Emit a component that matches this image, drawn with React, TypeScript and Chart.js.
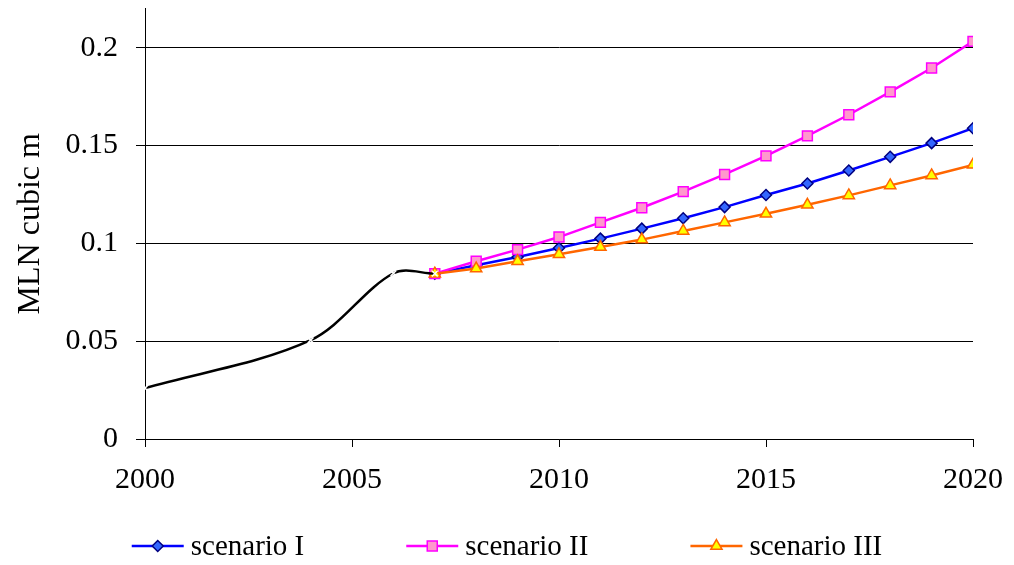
import React, { useEffect, useRef } from 'react';
import { Chart, registerables } from 'chart.js';

Chart.register(...registerables);

const historyYears = [2000, 2004, 2006, 2007];
const historyValues = [0.026, 0.0505, 0.0847, 0.0845];

const scenarioYears = [2007, 2008, 2009, 2010, 2011, 2012, 2013, 2014, 2015, 2016, 2017, 2018, 2019, 2020];
const scenario1 = [0.0845, 0.0888, 0.093, 0.0976, 0.1024, 0.1075, 0.1128, 0.1185, 0.1247, 0.1306, 0.1372, 0.1442, 0.1512, 0.1588];
const scenario2 = [0.0845, 0.0908, 0.0968, 0.1032, 0.1107, 0.1182, 0.1264, 0.1352, 0.1447, 0.1549, 0.1657, 0.1774, 0.1896, 0.2032];
const scenario3 = [0.0845, 0.0871, 0.0908, 0.0944, 0.0981, 0.1019, 0.1063, 0.1107, 0.1151, 0.1197, 0.1245, 0.1296, 0.1347, 0.1401];

const seriesLabels = ['scenario I', 'scenario II', 'scenario III'];
const yAxisTitle = 'MLN cubic m';
const xMin = 2000;
const xMax = 2020;
const xStep = 5;
const yMin = 0;
const yMax = 0.22;
const yStep = 0.05;

const FONT = '"Liberation Serif", "Times New Roman", serif';

const toPoints = (xs: number[], ys: number[]) => xs.map((x, i) => ({ x, y: ys[i] }));

function drawMarker(ctx: CanvasRenderingContext2D, style: string, x: number, y: number) {
  ctx.beginPath();
  if (style === 'rectRot') {
    const r = 5.5;
    ctx.moveTo(x - r, y);
    ctx.lineTo(x, y - r);
    ctx.lineTo(x + r, y);
    ctx.lineTo(x, y + r);
    ctx.closePath();
  } else if (style === 'rect') {
    const h = 5;
    ctx.rect(x - h, y - h, 2 * h, 2 * h);
  } else if (style === 'triangle') {
    const r = 6.5;
    ctx.moveTo(x, y - r);
    ctx.lineTo(x + r * Math.sin(Math.PI / 3), y + r / 2);
    ctx.lineTo(x - r * Math.sin(Math.PI / 3), y + r / 2);
    ctx.closePath();
  }
  ctx.fill();
  ctx.stroke();
}

const lineLegend = {
  id: 'lineLegend',
  afterDraw(chart: any) {
    const ctx: CanvasRenderingContext2D = chart.ctx;
    const items = chart.data.datasets.filter((d: any) => d.inLegend);
    ctx.save();
    ctx.font = `29px ${FONT}`;
    const lineW = 52;
    const gapText = 7;
    const gapItem = 102;
    const widths = items.map((d: any) => lineW + gapText + ctx.measureText(d.label).width);
    const total = widths.reduce((a: number, b: number) => a + b, 0) + gapItem * (items.length - 1);
    let x = chart.width / 2 - total / 2;
    const y = 546;
    items.forEach((d: any, i: number) => {
      ctx.strokeStyle = d.borderColor;
      ctx.lineWidth = 2.5;
      ctx.beginPath();
      ctx.moveTo(x, y);
      ctx.lineTo(x + lineW, y);
      ctx.stroke();
      ctx.fillStyle = d.pointBackgroundColor;
      ctx.strokeStyle = d.pointBorderColor;
      ctx.lineWidth = 1.5;
      drawMarker(ctx, d.pointStyle, x + lineW / 2, y);
      ctx.fillStyle = '#000';
      ctx.textBaseline = 'middle';
      ctx.textAlign = 'left';
      ctx.fillText(d.label, x + lineW + gapText, y + 1);
      x += widths[i] + gapItem;
    });
    ctx.restore();
  },
};

export default function App() {
  const canvasRef = useRef<HTMLCanvasElement | null>(null);

  useEffect(() => {
    if (!canvasRef.current) return;
    const chart = new Chart(canvasRef.current, {
      type: 'line',
      data: {
        datasets: [
          {
            label: seriesLabels[0],
            inLegend: true,
            data: toPoints(scenarioYears, scenario1),
            borderColor: '#0000FF',
            borderWidth: 2.5,
            pointStyle: 'rectRot',
            pointRadius: 5.5,
            pointBackgroundColor: '#3366FF',
            pointBorderColor: '#000080',
            pointBorderWidth: 1.5,
            tension: 0,
            order: 3,
          } as any,
          {
            label: seriesLabels[1],
            inLegend: true,
            data: toPoints(scenarioYears, scenario2),
            borderColor: '#FF00FF',
            borderWidth: 2.5,
            pointStyle: 'rect',
            pointRadius: 7,
            pointBackgroundColor: '#FF99CC',
            pointBorderColor: '#FF00FF',
            pointBorderWidth: 1.5,
            tension: 0,
            order: 2,
          } as any,
          {
            label: seriesLabels[2],
            inLegend: true,
            data: toPoints(scenarioYears, scenario3),
            borderColor: '#FF6600',
            borderWidth: 2.5,
            pointStyle: 'triangle',
            pointRadius: 6.5,
            pointBackgroundColor: '#FFFF00',
            pointBorderColor: '#FF6600',
            pointBorderWidth: 1.5,
            tension: 0,
            order: 1,
          } as any,
          {
            label: 'history',
            inLegend: false,
            data: toPoints(historyYears, historyValues),
            borderColor: '#000000',
            borderWidth: 2.5,
            pointStyle: 'crossRot',
            pointRadius: 4,
            pointBorderColor: '#FFFFFF',
            pointBackgroundColor: '#FFFFFF',
            pointBorderWidth: 1.5,
            tension: 0.33,
            order: 0,
          } as any,
        ],
      },
      options: {
        animation: false,
        responsive: false,
        maintainAspectRatio: false,
        layout: { padding: { left: 0, top: 8, right: 41, bottom: 66 } },
        plugins: {
          legend: { display: false },
          tooltip: { enabled: false },
        },
        scales: {
          x: {
            type: 'linear',
            min: xMin,
            max: xMax,
            ticks: {
              stepSize: xStep,
              color: '#000',
              font: { family: FONT, size: 30 },
              padding: 15,
              maxRotation: 0,
              callback: (v: any) => String(v),
            },
            grid: {
              drawOnChartArea: false,
              drawTicks: true,
              tickLength: 8,
              color: '#000',
              lineWidth: 1,
            },
            border: { display: true, color: '#000', width: 1 },
            afterFit: (scale: any) => {
              scale.height = 60;
              scale.paddingLeft = 0;
              scale.paddingRight = 0;
            },
          },
          y: {
            type: 'linear',
            min: yMin,
            max: yMax,
            ticks: {
              stepSize: yStep,
              includeBounds: false,
              color: '#000',
              font: { family: FONT, size: 30 },
              padding: 18,
              callback: (v: any) => String(+Number(v).toFixed(4)),
            },
            grid: {
              drawOnChartArea: true,
              drawTicks: true,
              tickLength: 9,
              color: '#000',
              lineWidth: 1,
            },
            border: { display: true, color: '#000', width: 1 },
            title: {
              display: true,
              text: yAxisTitle,
              color: '#000',
              font: { family: FONT, size: 32 },
              padding: { top: 11, bottom: 0 },
            },
            afterFit: (scale: any) => {
              scale.width = 145;
              scale.paddingTop = 0;
              scale.paddingBottom = 0;
            },
          },
        },
      } as any,
      plugins: [lineLegend],
    });
    return () => chart.destroy();
  }, []);

  return (
    <div style={{ position: 'absolute', left: 0, top: 0, width: 1014, height: 565, background: '#fff' }}>
      <canvas ref={canvasRef} width={1014} height={565} style={{ width: 1014, height: 565 }} />
    </div>
  );
}
